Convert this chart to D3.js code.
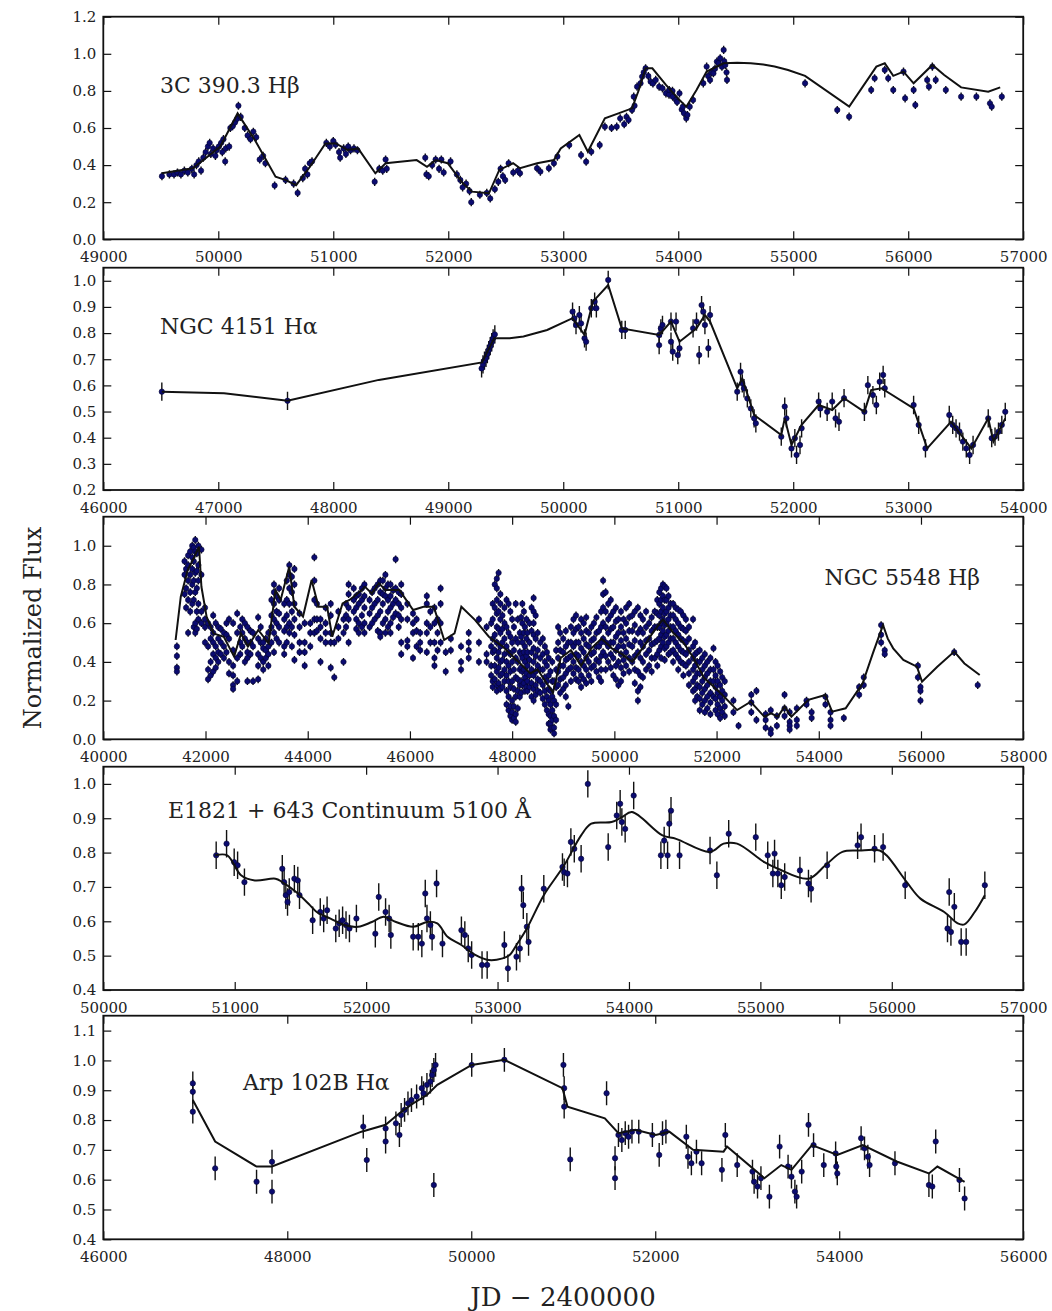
<!DOCTYPE html>
<html><head><meta charset="utf-8">
<script src="https://cdn.jsdelivr.net/npm/d3@7"></script>
<style>body{margin:0;background:#fff}svg{display:block}</style>
</head><body>
<svg id="chart" width="1052" height="1311"></svg>
<script>
// ---------------- DATA ----------------
// Panel 1: 3C 390.3 Hbeta  [JD-2400000, normalized flux]
const p1Obs = [
[49510,0.34],[49575,0.35],[49615,0.35],[49645,0.36],[49675,0.35],[49705,0.37],[49735,0.36],[49770,0.38],[49790,0.35],[49810,0.40],[49830,0.42],[49850,0.37],[49870,0.44],[49890,0.47],[49910,0.50],[49925,0.52],[49935,0.46],[49955,0.49],[49975,0.45],[49985,0.48],[50005,0.50],[50025,0.52],[50035,0.47],[50045,0.54],[50065,0.49],[50060,0.42],[50095,0.50],[50105,0.60],[50125,0.61],[50145,0.63],[50165,0.65],[50175,0.72],[50195,0.66],[50230,0.60],[50255,0.56],[50280,0.54],[50305,0.58],[50330,0.55],[50360,0.43],[50390,0.45],[50410,0.41],[50490,0.29],[50585,0.32],[50655,0.30],[50690,0.25],[50735,0.33],[50755,0.38],[50775,0.35],[50795,0.41],[50815,0.42],[50940,0.52],[50970,0.50],[51000,0.53],[51020,0.51],[51050,0.47],[51060,0.44],[51090,0.49],[51110,0.46],[51130,0.50],[51150,0.48],[51180,0.49],[51210,0.48],[51360,0.31],[51400,0.38],[51430,0.37],[51455,0.43],[51465,0.38],[51800,0.44],[51810,0.35],[51830,0.34],[51860,0.40],[51890,0.43],[51920,0.38],[51940,0.43],[51960,0.36],[52020,0.42],[52075,0.35],[52105,0.32],[52125,0.28],[52155,0.30],[52185,0.26],[52200,0.20],[52275,0.24],[52335,0.25],[52365,0.22],[52405,0.27],[52435,0.31],[52455,0.38],[52475,0.34],[52495,0.32],[52525,0.41],[52565,0.36],[52605,0.37],
[52624,0.356],[52772,0.383],[52801,0.365],[52875,0.383],[52919,0.41],[52949,0.446],[53052,0.508],[53155,0.454],[53199,0.418],[53244,0.472],[53317,0.508],[53362,0.607],[53420,0.60],[53465,0.607],[53495,0.652],[53530,0.62],[53550,0.66],[53568,0.643],[53598,0.697],[53613,0.769],[53620,0.72],[53642,0.823],[53672,0.841],[53686,0.877],[53700,0.90],[53716,0.922],[53740,0.88],[53760,0.85],[53780,0.84],[53804,0.859],[53834,0.823],[53863,0.814],[53893,0.787],[53920,0.78],[53922,0.805],[53950,0.80],[53952,0.769],[53981,0.751],[53990,0.74],[54011,0.787],[54030,0.70],[54040,0.715],[54050,0.68],[54070,0.652],[54080,0.67],[54100,0.715],[54129,0.751],[54218,0.841],[54247,0.931],[54260,0.88],[54277,0.859],[54290,0.90],[54306,0.895],[54320,0.92],[54336,0.958],[54350,0.95],[54365,0.976],[54380,0.93],[54395,1.021],[54400,0.96],[54409,0.940],[54420,0.90],[54424,0.859],
[55103,0.841],[55383,0.697],[55486,0.661],[55678,0.805],[55708,0.868],[55796,0.913],[55826,0.868],[55870,0.805],[55959,0.904],[55973,0.760],[56047,0.805],[56062,0.724],[56165,0.859],[56180,0.823],[56210,0.931],[56239,0.859],[56327,0.805],[56460,0.769],[56593,0.769],[56711,0.733],[56726,0.715],[56814,0.769]
];
const p1Model = [
[49509,0.356],[49779,0.383],[50018,0.50],[50168,0.679],[50318,0.535],[50498,0.337],[50587,0.319],[50677,0.292],[50797,0.391],[50932,0.517],[51022,0.517],[51126,0.481],[51216,0.490],[51366,0.356],[51456,0.410],[51725,0.427],[51815,0.391],[51890,0.427],[51995,0.410],[52115,0.311],[52205,0.257],[52354,0.248],[52444,0.374],[52564,0.410],[52624,0.383],[52773,0.41],[52919,0.427],[52978,0.49],[53140,0.562],[53214,0.472],[53362,0.652],[53480,0.679],[53598,0.706],[53657,0.805],[53716,0.922],[53775,0.922],[53893,0.832],[54011,0.751],[54070,0.715],[54159,0.805],[54247,0.904],[54395,0.949],[54513,0.952],[54631,0.949],[54740,0.942],[54838,0.931],[54955,0.913],[55103,0.881],[55487,0.715],[55723,0.931],[55796,0.949],[55870,0.881],[55959,0.904],[56047,0.841],[56210,0.940],[56313,0.886],[56460,0.819],[56696,0.796],[56800,0.819]
];
const p1Err = 0.022;
const p1XDomain = [49000, 57000], p1YDomain = [0, 1.2];
const p1XTicks = [49000,50000,51000,52000,53000,54000,55000,56000,57000];
const p1YTicks = [0.0,0.2,0.4,0.6,0.8,1.0,1.2];
const p1Label = "3C 390.3 Hβ";

// Panel 2: NGC 4151 Halpha
const p2Obs = [
[46509,0.576],[47602,0.541],
[49290,0.665],[49302,0.68],[49315,0.695],[49328,0.705],[49340,0.72],[49352,0.735],[49365,0.75],[49378,0.765],[49390,0.78],[49405,0.795],
[50081,0.882],[50096,0.856],[50111,0.831],[50140,0.869],[50155,0.837],[50185,0.780],[50199,0.767],[50244,0.895],[50273,0.920],[50288,0.895],[50391,1.003],[50509,0.812],[50539,0.812],[50834,0.793],[50849,0.818],[50834,0.754],[50863,0.831],[50937,0.844],[50937,0.767],[50952,0.729],[50981,0.844],[50996,0.716],[51011,0.742],[51129,0.818],[51159,0.844],[51182,0.716],[51203,0.907],[51218,0.882],[51232,0.831],[51262,0.742],[51277,0.869],
[51513,0.576],[51542,0.652],[51557,0.608],[51572,0.589],[51601,0.550],[51631,0.512],[51660,0.474],[51675,0.455],[51896,0.404],[51926,0.519],[51941,0.474],[51985,0.359],[52014,0.398],[52029,0.334],[52059,0.372],[52073,0.436],[52221,0.538],[52236,0.512],[52295,0.499],[52339,0.538],[52368,0.474],[52398,0.461],[52442,0.551],[52619,0.499],[52649,0.601],[52693,0.563],[52723,0.525],[52752,0.614],[52782,0.640],[52796,0.589],[53047,0.525],[53091,0.449],[53150,0.359],[53357,0.487],[53387,0.449],[53416,0.436],[53446,0.423],[53475,0.385],[53505,0.359],[53534,0.334],[53564,0.372],[53696,0.474],[53726,0.398],[53755,0.404],[53785,0.423],[53814,0.449],[53844,0.499]
];
const p2Model = [
[46509,0.576],[47050,0.570],[47602,0.541],[48396,0.621],[49294,0.688],[49399,0.780],[49534,0.780],[49654,0.787],[49860,0.812],[50081,0.857],[50185,0.793],[50258,0.920],[50391,0.984],[50509,0.818],[50834,0.793],[50937,0.844],[51011,0.767],[51159,0.818],[51232,0.869],[51277,0.844],[51513,0.589],[51557,0.627],[51660,0.487],[51896,0.410],[51926,0.474],[51985,0.372],[52073,0.449],[52221,0.525],[52339,0.506],[52442,0.551],[52619,0.499],[52678,0.582],[52767,0.589],[53047,0.512],[53165,0.359],[53372,0.461],[53549,0.359],[53696,0.474],[53741,0.385],[53844,0.474]
];
const p2Err = 0.035;
const p2XDomain = [46000, 54000], p2YDomain = [0.2, 1.05];
const p2XTicks = [46000,47000,48000,49000,50000,51000,52000,53000,54000];
const p2YTicks = [0.2,0.3,0.4,0.5,0.6,0.7,0.8,0.9,1.0];
const p2Label = "NGC 4151 Hα";

// Panel 3: NGC 5548 Hbeta — each row: [JD-2400000, fluxes observed near that date...]
const p3Cols = [
[41440,0.48,0.43,0.37,0.35],[41590,0.92,0.85,0.75],[41620,0.88,0.78,0.68],[41660,0.95,0.90,0.82,0.72,0.55],[41700,0.97,0.85,0.76,0.66],[41740,1.00,0.94,0.88,0.80,0.70],[41770,0.99,0.92,0.82,0.72,0.58],[41800,1.03,0.97,0.86,0.76,0.60,0.55],[41830,0.96,0.87,0.78,0.66,0.57],[41860,1.00,0.90,0.82,0.70,0.62],[41920,0.98,0.85,0.66,0.60],[41990,0.68,0.62,0.58,0.50],[42050,0.60,0.48,0.36,0.31],[42100,0.58,0.52,0.40,0.33],[42150,0.64,0.55,0.50,0.44,0.35],[42200,0.60,0.48,0.42,0.37],[42250,0.58,0.52,0.45,0.40],[42300,0.57,0.50,0.44],[42360,0.55,0.48,0.42],[42410,0.60,0.54,0.45],[42460,0.62,0.52,0.40,0.34],[42540,0.60,0.46,0.38,0.33,0.28,0.26],[42620,0.65,0.55,0.42,0.30],[42680,0.58,0.50,0.44],[42720,0.62,0.55,0.48],[42770,0.60,0.52,0.40],[42820,0.58,0.50,0.45,0.42,0.30],[42880,0.56,0.50,0.44],[42930,0.55,0.48,0.30],[43030,0.63,0.52,0.44,0.38,0.31],[43080,0.58,0.50,0.42],[43130,0.50,0.47,0.40,0.36],[43180,0.52,0.46,0.42],[43230,0.55,0.48,0.44,0.38],[43290,0.72,0.64,0.58,0.50],[43340,0.80,0.76,0.70,0.62,0.55,0.45],[43390,0.74,0.66,0.60,0.52],[43440,0.78,0.72,0.65,0.58,0.50],[43540,0.70,0.62,0.56,0.48,0.44],[43590,0.82,0.72,0.64,0.58,0.50],[43640,0.90,0.85,0.78,0.70,0.60,0.55],[43690,0.84,0.76,0.66,0.58,0.48],[43740,0.88,0.80,0.70,0.62,0.54,0.41],[43840,0.65,0.58,0.50,0.45],[43940,0.60,0.50,0.45,0.38],[44050,0.60,0.55,0.48],[44130,0.94,0.82,0.72,0.62,0.55],[44180,0.70,0.62,0.56],[44250,0.62,0.58,0.52,0.40],[44350,0.68,0.60,0.55,0.50],[44450,0.70,0.64,0.55,0.50,0.37],[44520,0.50,0.32],[44600,0.66,0.58,0.52],[44700,0.62,0.55,0.40],[44750,0.70,0.64,0.58],[44800,0.80,0.75,0.68,0.62,0.50],[44900,0.78,0.72,0.66],[44950,0.74,0.68,0.62,0.57],[45000,0.75,0.70,0.60,0.55],[45060,0.78,0.72,0.64,0.58],[45110,0.80,0.74,0.68,0.60,0.55],[45210,0.72,0.65,0.58],[45260,0.76,0.68,0.60],[45310,0.78,0.70,0.62],[45370,0.80,0.72,0.64,0.56],[45420,0.82,0.76,0.66,0.55,0.53],[45470,0.82,0.75,0.70,0.60],[45520,0.85,0.78,0.74,0.62,0.55],[45570,0.80,0.72,0.66,0.58],[45620,0.80,0.74,0.68,0.60,0.55],[45670,0.77,0.70,0.63],[45720,0.93,0.78,0.72,0.65],[45780,0.76,0.70,0.64,0.58],[45830,0.80,0.75,0.68,0.62,0.50,0.44],[45950,0.70,0.62,0.51,0.48],[46060,0.65,0.60,0.55,0.42],[46130,0.62,0.56,0.48],[46200,0.55,0.50,0.46],[46330,0.74,0.70,0.60,0.55,0.45],[46400,0.66,0.58,0.50],[46480,0.68,0.60,0.50,0.42,0.38],[46540,0.62,0.55,0.46],[46600,0.78,0.70,0.60,0.50],[46700,0.45,0.35],[46800,0.52,0.46],[47000,0.48,0.40,0.36],[47150,0.55,0.50,0.46,0.42],[47350,0.62,0.50,0.40],[47500,0.58,0.44,0.40],
[47590,0.60,0.48,0.38,0.33],[47620,0.70,0.62,0.52,0.45,0.30,0.27],[47660,0.80,0.68,0.54,0.46,0.38,0.31],[47700,0.83,0.78,0.72,0.65,0.58,0.50,0.42,0.35,0.28,0.25],[47735,0.86,0.66,0.57,0.45,0.37,0.29],[47770,0.75,0.70,0.62,0.55,0.48,0.40,0.33,0.26],[47810,0.64,0.57,0.50,0.41,0.34,0.27],[47850,0.68,0.60,0.52,0.44,0.36,0.30],[47890,0.72,0.58,0.48,0.40,0.33,0.25,0.18],[47930,0.70,0.55,0.45,0.38,0.30,0.22,0.15],[47965,0.66,0.53,0.44,0.35,0.27,0.17,0.12],[48000,0.62,0.50,0.40,0.30,0.20,0.14,0.10],[48035,0.58,0.46,0.36,0.26,0.17,0.11],[48070,0.70,0.52,0.42,0.32,0.22,0.13,0.09],[48110,0.62,0.50,0.40,0.31,0.25,0.16],[48150,0.55,0.45,0.36,0.28,0.22],[48175,0.63,0.53,0.44,0.37,0.30,0.24],[48200,0.70,0.60,0.50,0.42,0.35,0.28],[48230,0.66,0.55,0.45,0.36,0.29],[48250,0.58,0.48,0.40,0.32,0.25],[48280,0.62,0.52,0.43,0.34,0.27],[48300,0.55,0.45,0.38,0.30,0.25],[48340,0.60,0.50,0.41,0.33,0.27],[48380,0.68,0.56,0.45,0.36,0.29,0.22],[48420,0.73,0.66,0.60,0.54,0.47,0.40,0.33,0.26,0.20],[48460,0.64,0.52,0.43,0.35,0.28,0.23],[48500,0.55,0.46,0.38,0.31,0.25],[48550,0.50,0.42,0.36,0.30,0.24],[48600,0.52,0.44,0.36,0.28,0.21],[48640,0.48,0.40,0.32,0.25,0.18],[48680,0.45,0.38,0.30,0.22,0.15],[48715,0.42,0.33,0.26,0.20,0.13,0.08],[48750,0.35,0.25,0.18,0.12,0.08,0.05],[48785,0.40,0.30,0.22,0.15,0.10,0.06],[48820,0.30,0.20,0.12,0.06,0.03],[48860,0.46,0.36,0.27,0.18,0.10],[48900,0.58,0.50,0.42,0.35,0.28],[48940,0.55,0.46,0.38,0.31,0.24],[49000,0.52,0.45,0.38,0.32,0.26],[49050,0.56,0.48,0.41,0.34,0.28,0.22],[49100,0.50,0.42,0.36,0.17],[49150,0.58,0.50,0.43,0.37,0.30],[49200,0.62,0.55,0.48,0.40,0.34],[49250,0.64,0.57,0.50,0.44,0.37,0.31],[49300,0.58,0.50,0.43,0.36,0.30],[49350,0.62,0.55,0.47,0.40,0.33,0.27],[49400,0.60,0.52,0.45,0.38,0.31],[49450,0.63,0.56,0.49,0.42,0.36,0.29],[49500,0.55,0.48,0.40,0.33],[49550,0.58,0.51,0.44,0.37,0.30],[49600,0.60,0.52,0.45,0.38],[49650,0.63,0.55,0.48,0.41,0.35],[49700,0.56,0.48,0.40,0.32],[49740,0.66,0.58,0.50,0.43,0.36,0.30],[49780,0.82,0.75,0.68,0.60,0.52,0.45],[49830,0.76,0.66,0.58,0.50,0.43,0.36],[49880,0.70,0.62,0.55,0.48,0.40],[49930,0.72,0.64,0.57,0.50,0.44,0.37],[49980,0.66,0.58,0.50,0.42,0.33],[50030,0.68,0.61,0.53,0.46,0.38,0.31],[50080,0.62,0.55,0.48,0.40,0.28],[50130,0.66,0.58,0.51,0.44,0.37,0.30],[50180,0.62,0.55,0.48,0.41,0.34],[50230,0.68,0.60,0.52,0.45,0.38],[50290,0.70,0.63,0.56,0.49,0.42,0.35],[50350,0.64,0.56,0.48,0.40],[50400,0.66,0.59,0.51,0.43,0.36,0.29],[50460,0.68,0.55,0.45,0.35,0.25,0.20],[50510,0.64,0.57,0.50,0.42,0.33,0.27],[50560,0.62,0.55,0.48,0.40,0.32],[50620,0.66,0.58,0.51,0.44,0.36],[50680,0.60,0.52,0.46,0.38],[50730,0.63,0.56,0.49,0.42,0.35],[50790,0.66,0.58,0.50,0.42],[50840,0.72,0.65,0.58,0.51,0.44,0.38],[50880,0.76,0.70,0.64,0.58,0.52,0.46],[50915,0.78,0.72,0.66,0.60,0.54,0.48,0.42],[50950,0.80,0.74,0.68,0.62,0.56,0.50],[50985,0.79,0.72,0.65,0.59,0.53,0.47,0.41],[51020,0.78,0.72,0.66,0.60,0.54,0.48],[51060,0.74,0.68,0.62,0.56,0.50,0.44],[51100,0.70,0.64,0.58,0.52,0.45],[51150,0.70,0.64,0.58,0.52,0.46,0.40],[51200,0.68,0.62,0.56,0.50,0.44],[51250,0.67,0.60,0.54,0.48,0.42,0.36],[51300,0.66,0.58,0.52,0.46,0.40],[51350,0.64,0.57,0.51,0.45,0.39,0.33],[51400,0.62,0.56,0.50,0.44,0.38],[51460,0.58,0.52,0.46,0.40,0.34,0.28],[51540,0.62,0.48,0.42,0.36,0.30,0.25],[51580,0.50,0.44,0.38,0.32,0.26,0.20],[51620,0.45,0.40,0.34,0.28,0.22],[51670,0.46,0.40,0.34,0.27,0.21,0.15],[51720,0.42,0.36,0.30,0.24,0.18],[51770,0.44,0.38,0.32,0.26,0.20,0.14],[51820,0.40,0.34,0.28,0.22,0.16],[51880,0.42,0.36,0.30,0.24,0.19,0.13],[51940,0.47,0.36,0.30,0.22],[51980,0.40,0.33,0.27,0.21,0.15],[52020,0.38,0.30,0.24,0.18,0.13],[52070,0.35,0.28,0.22,0.16,0.11],[52110,0.32,0.25,0.20,0.14],[52160,0.30,0.23,0.17,0.12],
[52330,0.20,0.14],[52430,0.07],[52680,0.23,0.19,0.14],[52780,0.25,0.10],[52960,0.13,0.10,0.06],[53060,0.15,0.05,0.03],[53180,0.12,0.07],[53330,0.23,0.16,0.12],[53430,0.14,0.09,0.07,0.05],[53570,0.16,0.10,0.07],[53760,0.20,0.18],[53860,0.14,0.11],[54130,0.22,0.18],[54230,0.14,0.10,0.07],[54490,0.11],[54790,0.27,0.23],[54880,0.32,0.28],[55220,0.59,0.54,0.50],[55290,0.46,0.44],[55940,0.38,0.32],[55990,0.27,0.25,0.20],[56650,0.45],[57110,0.28]
];
const p3Model = [
[41415,0.513],[41516,0.737],[41651,0.874],[41785,0.943],[41873,0.995],[41920,0.788],[42021,0.634],[42156,0.547],[42358,0.530],[42560,0.427],[42695,0.547],[42830,0.479],[43032,0.565],[43234,0.496],[43369,0.771],[43470,0.720],[43638,0.892],[43739,0.685],[43908,0.634],[44076,0.823],[44211,0.685],[44379,0.685],[44480,0.530],[44682,0.702],[44817,0.720],[44985,0.754],[45120,0.788],[45255,0.754],[45390,0.806],[45524,0.771],[45794,0.771],[46063,0.668],[46265,0.685],[46467,0.685],[46670,0.513],[46872,0.547],[47006,0.685],[47276,0.616],[47545,0.530],[47815,0.479],[48085,0.410],[48354,0.341],[48500,0.36],[48650,0.30],[48800,0.24],[48950,0.42],[49150,0.46],[49350,0.38],[49550,0.47],[49750,0.52],[49950,0.47],[50150,0.44],[50350,0.40],[50550,0.47],[50750,0.55],[50950,0.62],[51150,0.55],[51350,0.50],[51550,0.42],[51750,0.32],[51950,0.27],[52150,0.22],[52402,0.151],[52668,0.194],[52933,0.117],[53066,0.134],[53199,0.117],[53331,0.169],[53464,0.117],[53796,0.204],[54128,0.229],[54261,0.143],[54526,0.160],[54858,0.289],[55058,0.444],[55257,0.590],[55350,0.52],[55456,0.470],[55655,0.410],[55921,0.375],[56020,0.298],[56319,0.375],[56651,0.453],[56850,0.392],[57149,0.332]
];
const p3Err = 0.02;
const p3XDomain = [40000, 58000], p3YDomain = [0, 1.15];
const p3XTicks = [40000,42000,44000,46000,48000,50000,52000,54000,56000,58000];
const p3YTicks = [0.0,0.2,0.4,0.6,0.8,1.0];
const p3Label = "NGC 5548 Hβ";

// Panel 4: E1821+643 continuum 5100 A
const p4Obs = [
[50859,0.792],[50938,0.826],[50996,0.772],[51022,0.763],[51074,0.714],[51362,0.753],[51376,0.714],[51389,0.676],[51402,0.656],[51415,0.685],[51454,0.724],[51480,0.719],[51493,0.676],[51593,0.603],[51651,0.627],[51677,0.608],[51703,0.632],[51769,0.579],[51795,0.594],[51821,0.603],[51847,0.589],[51873,0.579],[51926,0.608],[52070,0.564],[52096,0.671],[52148,0.627],[52175,0.608],[52188,0.560],[52358,0.555],[52397,0.555],[52424,0.535],[52450,0.681],[52463,0.608],[52489,0.589],[52502,0.555],[52536,0.710],[52581,0.535],[52725,0.574],[52751,0.560],[52777,0.521],[52803,0.502],[52882,0.473],[52921,0.473],[53052,0.531],[53079,0.463],[53144,0.497],[53170,0.521],[53183,0.695],[53196,0.647],[53223,0.584],[53236,0.540],
[53352,0.695],[53494,0.758],[53507,0.743],[53532,0.739],[53558,0.831],[53584,0.811],[53636,0.782],[53687,1.000],[53842,0.816],[53907,0.908],[53933,0.942],[53946,0.889],[53971,0.869],[54036,0.966],[54243,0.792],[54268,0.835],[54294,0.792],[54307,0.884],[54320,0.922],[54385,0.792],[54617,0.806],[54669,0.734],[54759,0.855],[54965,0.845],[55056,0.792],[55095,0.739],[55108,0.797],[55133,0.739],[55159,0.705],[55185,0.729],[55301,0.748],[55366,0.710],[55386,0.695],[55508,0.763],[55740,0.821],[55766,0.845],[55869,0.811],[55934,0.816],[56102,0.705],[56424,0.579],[56437,0.685],[56450,0.569],[56476,0.642],[56528,0.540],[56566,0.540],[56708,0.705]
];
const p4Model = [
[50852,0.792],[50943,0.792],[51048,0.734],[51153,0.719],[51310,0.724],[51362,0.714],[51467,0.685],[51572,0.647],[51624,0.627],[51729,0.608],[51834,0.589],[51939,0.584],[52044,0.598],[52135,0.613],[52227,0.598],[52358,0.584],[52463,0.598],[52541,0.594],[52620,0.555],[52725,0.531],[52830,0.502],[52934,0.487],[53039,0.492],[53092,0.502],[53144,0.531],[53223,0.579],[53352,0.676],[53507,0.763],[53636,0.850],[53713,0.884],[53868,0.889],[53946,0.903],[54023,0.918],[54255,0.850],[54359,0.840],[54617,0.802],[54720,0.826],[54823,0.826],[55030,0.772],[55133,0.753],[55366,0.724],[55495,0.763],[55624,0.802],[55753,0.806],[55908,0.806],[55960,0.792],[56114,0.714],[56218,0.666],[56399,0.627],[56502,0.594],[56553,0.591],[56631,0.627],[56708,0.676]
];
const p4Err = 0.04;
const p4XDomain = [50000, 57000], p4YDomain = [0.4, 1.05];
const p4XTicks = [50000,51000,52000,53000,54000,55000,56000,57000];
const p4YTicks = [0.4,0.5,0.6,0.7,0.8,0.9,1.0];
const p4Label = "E1821 + 643 Continuum 5100 Å";

// Panel 5: Arp 102B Halpha
const p5Obs = [
[46973,0.923],[46973,0.895],[46973,0.828],[47216,0.638],[47666,0.593],[47834,0.660],[47834,0.560],[48826,0.778],[48864,0.666],[49069,0.772],[49069,0.728],[49181,0.789],[49219,0.750],[49238,0.817],[49275,0.834],[49312,0.856],[49350,0.867],[49406,0.879],[49462,0.907],[49481,0.890],[49518,0.918],[49556,0.929],[49575,0.951],[49593,0.968],[49612,0.985],[49593,0.582],[50005,0.985],[50360,1.002],
[51002,0.985],[51010,0.907],[51010,0.845],[51076,0.668],[51471,0.890],[51563,0.672],[51563,0.605],[51600,0.750],[51637,0.733],[51674,0.756],[51710,0.744],[51747,0.761],[51821,0.761],[51969,0.750],[52043,0.683],[52079,0.756],[52116,0.761],[52338,0.744],[52356,0.677],[52393,0.655],[52448,0.694],[52504,0.655],[52725,0.633],[52762,0.750],[52891,0.649],[53057,0.627],[53075,0.593],[53112,0.577],[53149,0.605],[53241,0.543],[53352,0.711],[53444,0.644],[53481,0.610],[53518,0.560],[53537,0.543],[53592,0.627],[53666,0.784],[53721,0.716],[53832,0.649],[53961,0.688],[53968,0.644],[53979,0.621],[54238,0.739],[54275,0.705],[54311,0.677],[54330,0.649],[54606,0.655],[54975,0.582],[55012,0.577],[55049,0.728],[55307,0.599],[55363,0.537]
];
const p5Model = [
[46973,0.867],[47216,0.728],[47666,0.644],[47834,0.644],[48807,0.761],[49069,0.784],[49219,0.823],[49368,0.856],[49518,0.884],[49631,0.918],[50005,0.985],[50360,1.002],[50991,0.907],[51046,0.845],[51452,0.806],[51600,0.756],[51784,0.767],[52006,0.750],[52153,0.761],[52411,0.700],[52743,0.694],[52780,0.711],[53186,0.605],[53370,0.649],[53481,0.633],[53703,0.716],[53979,0.683],[54256,0.716],[54625,0.661],[54975,0.621],[55067,0.644],[55363,0.593]
];
const p5Err = 0.04;
const p5XDomain = [46000, 56000], p5YDomain = [0.4, 1.15];
const p5XTicks = [46000,48000,50000,52000,54000,56000];
const p5YTicks = [0.4,0.5,0.6,0.7,0.8,0.9,1.0,1.1];
const p5Label = "Arp 102B Hα";

const yAxisTitle = "Normalized Flux";
const xAxisTitle = "JD − 2400000";

// ---------------- DRAWING ----------------
const p3Obs = [];
p3Cols.forEach(r => { for (let i = 1; i < r.length; i++) p3Obs.push([r[0], r[i]]); });

const FONT = "'DejaVu Serif', serif";
const frameL = 103.3, frameR = 1023.2;
const panels = [
  {obs:p1Obs, model:p1Model, err:p1Err, xd:p1XDomain, yd:p1YDomain, xt:p1XTicks, yt:p1YTicks, label:p1Label, top:16.7, bottom:239.3, lx:160, ly:93, anchor:"start", curve:d3.curveLinear},
  {obs:p2Obs, model:p2Model, err:p2Err, xd:p2XDomain, yd:p2YDomain, xt:p2XTicks, yt:p2YTicks, label:p2Label, top:267.7, bottom:490, lx:160, ly:334, anchor:"start", curve:d3.curveLinear},
  {obs:p3Obs, model:p3Model, err:p3Err, xd:p3XDomain, yd:p3YDomain, xt:p3XTicks, yt:p3YTicks, label:p3Label, top:516.7, bottom:739.3, lx:980, ly:585, anchor:"end", curve:d3.curveLinear},
  {obs:p4Obs, model:p4Model, err:p4Err, xd:p4XDomain, yd:p4YDomain, xt:p4XTicks, yt:p4YTicks, label:p4Label, top:766.7, bottom:990, lx:168, ly:818, anchor:"start", curve:d3.curveCatmullRom.alpha(0.5)},
  {obs:p5Obs, model:p5Model, err:p5Err, xd:p5XDomain, yd:p5YDomain, xt:p5XTicks, yt:p5YTicks, label:p5Label, top:1015.7, bottom:1239.3, lx:243, ly:1090, anchor:"start", curve:d3.curveLinear}
];

const svg = d3.select("#chart");
svg.append("rect").attr("width",1052).attr("height",1311).attr("fill","#fff");
const defs = svg.append("defs");

panels.forEach((p, i) => {
  const x = d3.scaleLinear().domain(p.xd).range([frameL, frameR]);
  const y = d3.scaleLinear().domain(p.yd).range([p.bottom, p.top]);
  const g = svg.append("g");

  defs.append("clipPath").attr("id","clip"+i).append("rect")
    .attr("x",frameL).attr("y",p.top).attr("width",frameR-frameL).attr("height",p.bottom-p.top);

  const plot = g.append("g").attr("clip-path","url(#clip"+i+")");
  plot.append("g").selectAll("line").data(p.obs).join("line")
    .attr("x1",d=>x(d[0])).attr("x2",d=>x(d[0]))
    .attr("y1",d=>y(d[1]-p.err)).attr("y2",d=>y(d[1]+p.err))
    .attr("stroke","#111").attr("stroke-width",1.4);
  plot.append("g").selectAll("circle").data(p.obs).join("circle")
    .attr("cx",d=>x(d[0])).attr("cy",d=>y(d[1])).attr("r",2.7)
    .attr("fill","#0b0b70").attr("stroke","#050530").attr("stroke-width",0.6);
  plot.append("path").datum(p.model)
    .attr("d", d3.line().x(d=>x(d[0])).y(d=>y(d[1])).curve(p.curve))
    .attr("fill","none").attr("stroke","#111").attr("stroke-width",2);

  const fmtX = d3.format("d"), fmtY = d3.format(".1f");
  const styleAxis = sel => {
    sel.select(".domain").remove();
    sel.selectAll(".tick line").attr("stroke","#111").attr("stroke-width",1.2);
    sel.selectAll("text").attr("font-family",FONT).attr("font-size",15).attr("fill","#222");
  };
  g.append("g").attr("transform",`translate(0,${p.bottom})`)
    .call(d3.axisBottom(x).tickValues(p.xt).tickFormat(fmtX).tickSizeInner(-8).tickSizeOuter(0).tickPadding(12))
    .call(styleAxis);
  g.append("g").attr("transform",`translate(0,${p.top})`)
    .call(d3.axisTop(x).tickValues(p.xt).tickFormat("").tickSizeInner(-8).tickSizeOuter(0))
    .call(styleAxis);
  g.append("g").attr("transform",`translate(${frameL},0)`)
    .call(d3.axisLeft(y).tickValues(p.yt).tickFormat(fmtY).tickSizeInner(-8).tickSizeOuter(0).tickPadding(7))
    .call(styleAxis);
  g.append("g").attr("transform",`translate(${frameR},0)`)
    .call(d3.axisRight(y).tickValues(p.yt).tickFormat("").tickSizeInner(-8).tickSizeOuter(0))
    .call(styleAxis);

  g.append("rect").attr("x",frameL).attr("y",p.top).attr("width",frameR-frameL).attr("height",p.bottom-p.top)
    .attr("fill","none").attr("stroke","#111").attr("stroke-width",1.8);

  g.append("text").attr("x",p.lx).attr("y",p.ly).attr("text-anchor",p.anchor)
    .attr("font-family",FONT).attr("font-size",22).attr("fill","#222").text(p.label);
});

svg.append("text").attr("transform","translate(41,628) rotate(-90)").attr("text-anchor","middle")
  .attr("font-family",FONT).attr("font-size",24).attr("fill","#222").text(yAxisTitle);
svg.append("text").attr("x",563).attr("y",1306).attr("text-anchor","middle")
  .attr("font-family",FONT).attr("font-size",26).attr("fill","#222").text(xAxisTitle);
</script>
</body></html>
